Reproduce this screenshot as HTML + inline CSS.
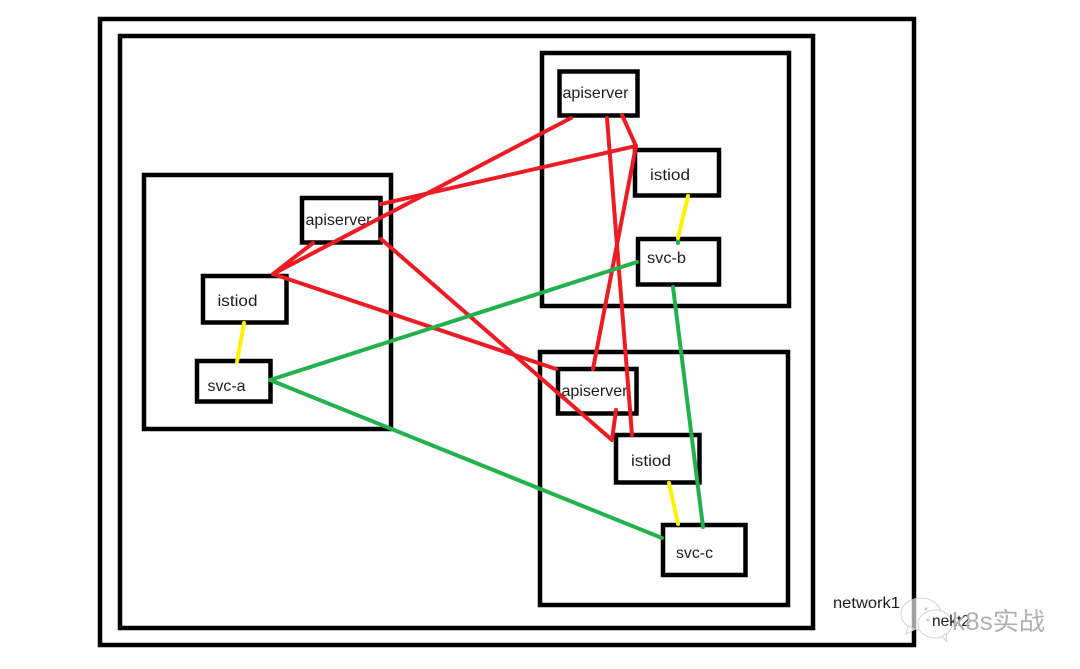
<!DOCTYPE html>
<html><head><meta charset="utf-8"><style>
html,body{margin:0;padding:0;background:#fff}
svg{display:block}
text{font-family:"Liberation Sans","Noto Sans CJK SC",sans-serif;font-size:16px;fill:#1c1c1c}
</style></head><body>
<svg width="1080" height="669" viewBox="0 0 1080 669" xmlns="http://www.w3.org/2000/svg">
<rect width="1080" height="669" fill="#fff"/>
<g fill="none" stroke="#000" stroke-width="4.500">
<rect x="100" y="19" width="814" height="626"/>
<rect x="120" y="36" width="693" height="592"/>
<rect x="144" y="175" width="247" height="254"/>
<rect x="542" y="53" width="247" height="253"/>
<rect x="540" y="352" width="248" height="253"/>
</g>
<g fill="#fff" stroke="#000" stroke-width="4.500">
<rect x="559.5" y="71.5" width="78" height="44"/>
<rect x="635" y="150" width="84" height="45.500"/>
<rect x="638" y="239" width="81" height="45.500"/>
<rect x="302" y="198" width="78.500" height="44.500"/>
<rect x="203" y="276" width="83.500" height="46.500"/>
<rect x="197" y="361" width="73.500" height="40.500"/>
<rect x="558" y="369" width="78.500" height="44.500"/>
<rect x="616" y="435" width="83.500" height="47.500"/>
<rect x="663" y="525" width="82.500" height="50"/>
</g>
<g>
<text x="562.500" y="98" textLength="66" lengthAdjust="spacingAndGlyphs">apiserver</text>
<text x="650" y="180" textLength="40" lengthAdjust="spacingAndGlyphs">istiod</text>
<text x="647" y="263" textLength="39" lengthAdjust="spacingAndGlyphs">svc-b</text>
<text x="305.500" y="225" textLength="66" lengthAdjust="spacingAndGlyphs">apiserver</text>
<text x="217.500" y="306" textLength="40" lengthAdjust="spacingAndGlyphs">istiod</text>
<text x="207.500" y="391" textLength="38" lengthAdjust="spacingAndGlyphs">svc-a</text>
<text x="561.500" y="396" textLength="66" lengthAdjust="spacingAndGlyphs">apiserver</text>
<text x="631" y="466" textLength="40" lengthAdjust="spacingAndGlyphs">istiod</text>
<text x="676" y="558" textLength="37" lengthAdjust="spacingAndGlyphs">svc-c</text>
<text x="833" y="608" textLength="67" lengthAdjust="spacingAndGlyphs">network1</text>
</g>
<g fill="none" stroke="#ed1c24" stroke-width="4" stroke-linecap="round" stroke-linejoin="round">
<polyline points="571,118 273,274 313,243"/>
<polyline points="381,204 636,146 622,115"/>
<line x1="636" y1="146" x2="593" y2="369"/>
<line x1="607" y1="118" x2="632" y2="435"/>
<line x1="273" y1="274" x2="556" y2="369"/>
<polyline points="381,239 612,440 616,410"/>
</g>
<g fill="none" stroke="#22b14c" stroke-width="4" stroke-linecap="round">
<line x1="637" y1="262" x2="270" y2="380"/>
<line x1="270" y1="380" x2="662" y2="538"/>
<line x1="673" y1="287" x2="703" y2="527"/>
<line x1="678" y1="241" x2="678" y2="243"/>
</g>
<g fill="none" stroke="#fff200" stroke-width="4" stroke-linecap="round">
<line x1="688" y1="196" x2="678" y2="238"/>
<line x1="244" y1="323" x2="237" y2="362"/>
<line x1="669" y1="483" x2="678" y2="524"/>
</g>
<!-- watermark -->
<g opacity="0.85">
<ellipse cx="921" cy="614" rx="20" ry="16" fill="#fff" fill-opacity=".75" stroke="#ccc" stroke-width="1"/>
<path d="M908 626 L906 634 L916 629Z" fill="#fff" stroke="#ccc" stroke-width="1"/>
<ellipse cx="935" cy="624" rx="17" ry="14" fill="#fff" fill-opacity=".85" stroke="#ccc" stroke-width="1"/>
<path d="M942 636 L947 642 L946 634Z" fill="#fff" stroke="#ccc" stroke-width="1"/>
<circle cx="914" cy="609" r="1.500" fill="#bbb"/><circle cx="926" cy="609" r="1.500" fill="#bbb"/>
<circle cx="928" cy="620" r="1.500" fill="#bbb"/>
</g>
<text x="932" y="626" textLength="38" lengthAdjust="spacingAndGlyphs">nekt2</text>
<text x="952" y="630" textLength="93" lengthAdjust="spacingAndGlyphs" style="font-size:25px;fill:#b0b0b0;font-family:'Liberation Sans','Noto Sans CJK SC',sans-serif">k8s实战</text>
</svg>
</body></html>
